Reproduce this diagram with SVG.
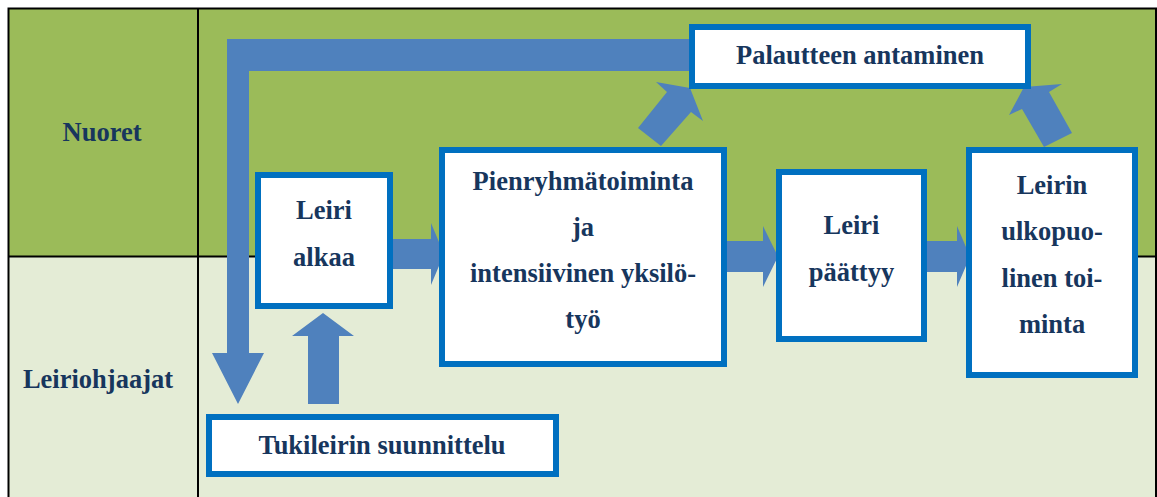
<svg xmlns="http://www.w3.org/2000/svg" width="1157" height="497" viewBox="0 0 1157 497">
<style>
.lbl{font-family:"Liberation Serif","Times New Roman",serif;font-weight:bold;font-size:26.5px;fill:#17365D;text-anchor:middle}
.box{fill:#FFFFFF;stroke:#0070C0;stroke-width:6}
.arr{fill:#4F81BD}
.grid{stroke:#000;stroke-width:2;fill:none}
</style>
<g id="table">
<rect x="9" y="9" width="1147" height="247" fill="#9BBB59"/>
<rect x="9" y="256" width="1147" height="241" fill="#E4ECD6"/>
<path class="grid" d="M8.5,497 V8.5 H1156 V497 M198,8.5 V497 M8.5,256.5 H1157"/>
<text class="lbl" x="102" y="141">Nuoret</text>
<text class="lbl" x="98" y="388">Leiriohjaajat</text>
</g>
<g id="connectors">
<path class="arr" d="M227,39 H692 V71 H249 V353 H264 L238,404 L212,353 H227 Z"/>
<polygon class="arr" points="308,404 339,404 339,336 354,336 323,313 292,336 308,336"/>
<polygon class="arr" points="393,239 431,239 431,223 444,254 431,285 431,269 393,269"/>
<polygon class="arr" points="727,241 763,241 763,226 778,256.5 763,287 763,272 727,272"/>
<polygon class="arr" points="927,241 957,241 957,226 970,256.5 957,287 957,272 927,272"/>
<polygon class="arr" points="638,128 661,146 691,112 703,121 690,88 656,82 667,92"/>
<polygon class="arr" points="1044,147 1072,133 1049,92 1062,84 1024,87 1009,115 1022,109"/>
</g>
<g id="node-palaute">
<rect class="box" x="692" y="27" width="336" height="59"/>
<text class="lbl" x="860" y="64">Palautteen antaminen</text>
</g>
<g id="node-leiri-alkaa">
<rect class="box" x="258" y="175" width="132" height="131"/>
<text class="lbl" x="324" y="219">Leiri</text>
<text class="lbl" x="324" y="266">alkaa</text>
</g>
<g id="node-pienryhma">
<rect class="box" x="442" y="150" width="282" height="214"/>
<text class="lbl" x="583" y="190">Pienryhmätoiminta</text>
<text class="lbl" x="583" y="236">ja</text>
<text class="lbl" x="583" y="282">intensiivinen yksilö-</text>
<text class="lbl" x="583" y="328">työ</text>
</g>
<g id="node-leiri-paattyy">
<rect class="box" x="779" y="172" width="145" height="167"/>
<text class="lbl" x="851.5" y="234">Leiri</text>
<text class="lbl" x="851.5" y="281">päättyy</text>
</g>
<g id="node-ulkopuolinen">
<rect class="box" x="969" y="150" width="166" height="225"/>
<text class="lbl" x="1052" y="194">Leirin</text>
<text class="lbl" x="1052" y="240">ulkopuo-</text>
<text class="lbl" x="1052" y="287">linen toi-</text>
<text class="lbl" x="1052" y="333">minta</text>
</g>
<g id="node-tukileiri">
<rect class="box" x="209" y="417" width="347" height="57"/>
<text class="lbl" x="382" y="454">Tukileirin suunnittelu</text>
</g>
</svg>
